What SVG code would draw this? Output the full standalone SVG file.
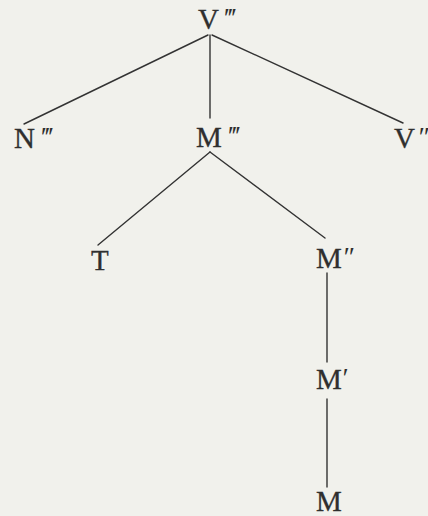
<svg xmlns="http://www.w3.org/2000/svg" width="428" height="516" viewBox="0 0 428 516">
<style>
.lbl{font-family:"Liberation Serif","DejaVu Serif",serif;font-size:29px;fill:#2f2f2f;stroke:#2f2f2f;stroke-width:0.3}
.pr{font-family:"Liberation Serif","DejaVu Serif",serif;font-size:27px;fill:#2f2f2f;font-style:italic}
.edge{stroke:#333;stroke-width:1.4;fill:none;stroke-linecap:round}
</style>
<rect width="428" height="516" fill="#f1f1ec"/>
<g id="connectors">
<line class="edge" x1="208" y1="35" x2="24" y2="124"/>
<line class="edge" x1="210" y1="35" x2="210" y2="118"/>
<line class="edge" x1="212" y1="35" x2="403" y2="123"/>
<line class="edge" x1="210" y1="152" x2="98" y2="245"/>
<line class="edge" x1="210" y1="152" x2="325" y2="238"/>
<line class="edge" x1="327" y1="273" x2="327" y2="362"/>
<line class="edge" x1="327" y1="399" x2="327" y2="487"/>
</g>
<g id="V3"><text class="lbl" x="198" y="29">V</text><text class="pr" x="223" y="27">‴</text></g>
<g id="N3"><text class="lbl" x="14" y="148">N</text><text class="pr" x="40" y="146">‴</text></g>
<g id="M3"><text class="lbl" x="196" y="147">M</text><text class="pr" x="227" y="145">‴</text></g>
<g id="V2"><text class="lbl" x="394" y="148">V</text><text class="pr" x="417" y="146">″</text></g>
<g id="T"><text class="lbl" x="91" y="270">T</text></g>
<g id="M2"><text class="lbl" x="316" y="268">M</text><text class="pr" x="342" y="266">″</text></g>
<g id="M1"><text class="lbl" x="316" y="389">M</text><text class="pr" x="341" y="387">′</text></g>
<g id="M0"><text class="lbl" x="316" y="511">M</text></g>
</svg>
